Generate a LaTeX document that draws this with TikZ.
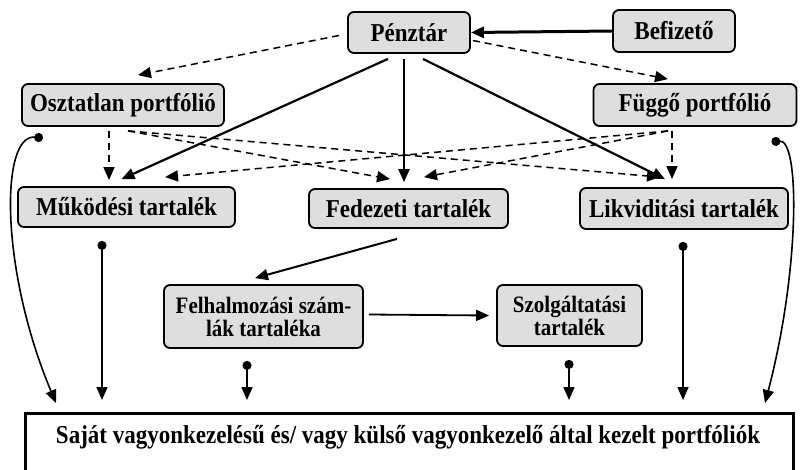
\documentclass[tikz,border=0pt]{standalone}
\usepackage{fontspec}
\usepackage{graphicx}
\setmainfont{Liberation Serif}
\usetikzlibrary{arrows.meta,calc}
\newcommand\vstretch[1]{\scalebox{1}[1.12]{#1}}
\begin{document}
\begin{tikzpicture}[x=1pt,y=-1pt,
  box/.style={draw,line width=1.8pt,rounded corners=6pt,fill=black!13,
    font=\fontsize{23}{24}\selectfont\bfseries,inner sep=0pt,align=center},
  smallbox/.style={box,font=\fontsize{21}{22}\selectfont\bfseries},
  tip/.style={-{Triangle[length=13pt,width=11pt]}},
  thickarr/.style={tip,line width=2.2pt},
  dasharr/.style={tip,line width=1.5pt,dash pattern=on 7pt off 5pt},
  dotarr/.style={{Circle[length=9pt]}-{Triangle[length=13pt,width=11pt]},line width=1.6pt}]
\useasboundingbox (0,0) rectangle (800,469);
\clip (0,0) rectangle (800,469);
% nodes
\node[box,minimum width=122pt,minimum height=41pt] (penz) at (409,32.5) {\vstretch{Pénztár}};
\node[box,minimum width=122pt,minimum height=42pt] (bef) at (674,31) {\vstretch{Befizető}};
\node[box,minimum width=202pt,minimum height=42pt] (oszt) at (123,105) {\vstretch{Osztatlan portfólió}};
\node[box,minimum width=203pt,minimum height=42pt] (fugg) at (695,105) {\vstretch{Függő portfólió}};
\node[box,minimum width=217pt,minimum height=40pt] (muk) at (126.5,207) {\vstretch{Működési tartalék}};
\node[box,minimum width=199pt,minimum height=39pt] (fed) at (408.5,208.5) {\vstretch{Fedezeti tartalék}};
\node[box,minimum width=208pt,minimum height=41pt] (lik) at (684,208.5) {\vstretch{Likviditási tartalék}};
\node[smallbox,minimum width=199pt,minimum height=63pt] (felh) at (263.5,316.5) {\vstretch{Felhalmozási szám-}\\[1pt]\vstretch{lák tartaléka}};
\node[smallbox,minimum width=145pt,minimum height=61pt] (szolg) at (569.5,315.5) {\vstretch{Szolgáltatási}\\[1pt]\vstretch{tartalék}};
\node[draw,line width=3pt,minimum width=768pt,minimum height=70pt,anchor=north west,inner sep=0pt] (port) at (24,412) {};
\node[font=\fontsize{23}{26}\selectfont\bfseries] (porttxt) at (408,437) {\vstretch{Saját vagyonkezelésű és/ vagy külső vagyonkezelő által kezelt portfóliók}};
% connectors
\draw[thickarr,line width=3pt] (bef.west) -- (penz.east);
\draw[dasharr] ($(penz.west)+(-8,3)$) -- ($(oszt.north)+(15,-8)$);
\draw[dasharr] ($(penz.east)+(2,8)$) -- ($(fugg.north)+(-27,-4)$);
\draw[thickarr] ($(penz.south)+(-21,5)$) -- ($(muk.north)+(-5,-7)$);
\draw[thickarr] ($(penz.south)+(-5,5)$) -- ($(fed.north)+(-4.5,-6)$);
\draw[thickarr] ($(penz.south)+(14,5)$) -- ($(lik.north)+(-19,-8)$);
\draw[dasharr] ($(oszt.south)+(-14,4)$) -- ($(muk.north)+(-17.5,-6)$);
\draw[dasharr] ($(oszt.south)+(5,4)$) -- ($(fed.north)+(-18.5,-9)$);
\draw[dasharr] ($(oszt.south)+(5,4)$) -- ($(lik.north)+(-24,-10)$);
\draw[dasharr] ($(fugg.south)+(-23,4)$) -- ($(lik.north)+(-12,-8)$);
\draw[dasharr] ($(fugg.south)+(-27,4)$) -- ($(fed.north)+(15.5,-11)$);
\draw[dasharr] ($(fugg.south)+(-27,4)$) -- ($(muk.north)+(38.5,-9)$);
\draw[thickarr,line width=2pt] ($(fed.south)+(-11.5,10)$) -- ($(felh.north)+(-8.5,-6)$);
\draw[tip,line width=1.8pt] ($(felh.east)+(5,-2)$) -- ($(szolg.west)+(-7,0)$);
\draw[dotarr] ($(muk.south)+(-24.5,13)$) -- ($(port.north west)+(78,-12)$);
\draw[dotarr] ($(felh.south)+(-16.5,12)$) -- ($(port.north west)+(223,-12)$);
\draw[dotarr] ($(szolg.south)+(-0.5,13)$) -- ($(port.north west)+(545,-12)$);
\draw[dotarr] ($(lik.south)+(-1,12)$) -- ($(port.north west)+(659,-12)$);
\coordinate (oszttip) at ($(port.north west)+(32,-9)$);
\coordinate (fuggtip) at ($(port.north east)+(-30,-9)$);
\draw[dotarr] ($(oszt.south west)+(22,11)$) .. controls (0,134) and (0,270) .. (oszttip);
\draw[dotarr] ($(fugg.south east)+(-26,15)$) .. controls (800,139) and (800,270) .. (fuggtip);
\end{tikzpicture}
\end{document}
